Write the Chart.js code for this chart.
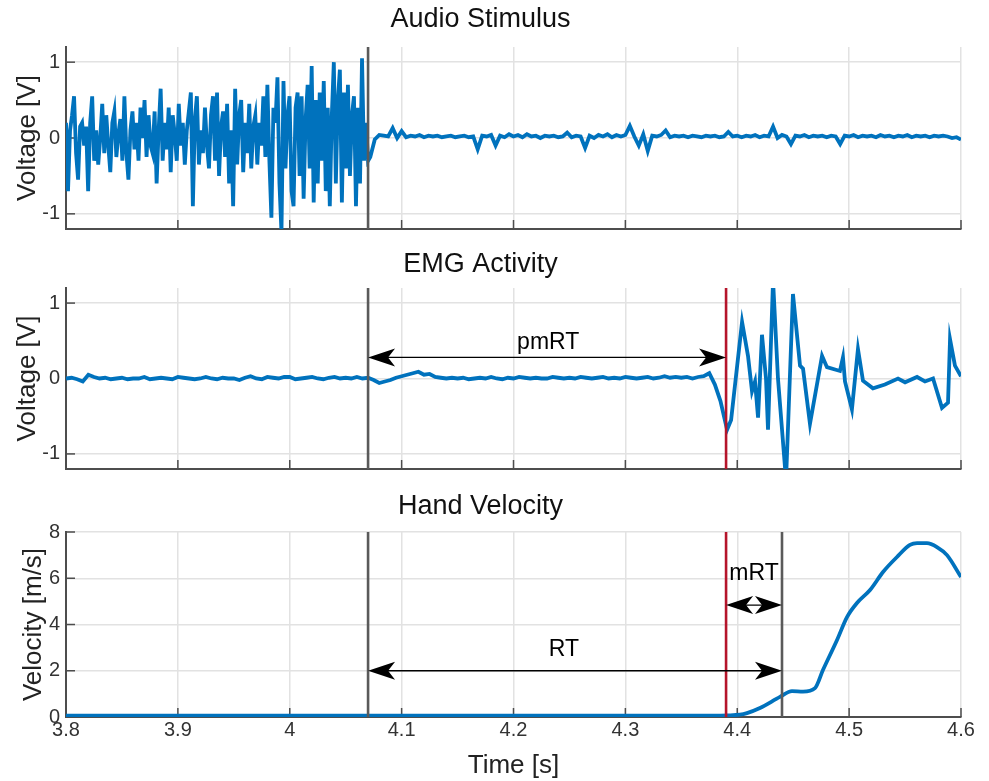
<!DOCTYPE html>
<html><head><meta charset="utf-8">
<script src="https://cdn.jsdelivr.net/npm/chart.js@4"></script>
<style>
html,body{margin:0;padding:0;background:#fff;}
#wrap{position:relative;width:989px;height:781px;overflow:hidden;background:#fff;}
canvas{position:absolute;left:0;}
</style></head><body>
<div id="wrap">
<canvas id="c1" width="989" height="245" style="top:0px"></canvas>
<canvas id="c2" width="989" height="245" style="top:240px"></canvas>
<canvas id="c3" width="989" height="301" style="top:480px"></canvas>
</div>
<script>
// ---------- data ----------
const xTicks = [3.8, 3.9, 4.0, 4.1, 4.2, 4.3, 4.4, 4.5, 4.6];
const xTickLabels = ['3.8', '3.9', '4', '4.1', '4.2', '4.3', '4.4', '4.5', '4.6'];
const voltTicks = [-1, 0, 1];
const velTicks = [0, 2, 4, 6, 8];

const stimulusOnset = 4.07;
const emgOnset = 4.39;
const moveOnset = 4.44;

// audio: noise part sampled from 3.8 s every 1.8 ms
const audioNoiseStart = 3.8, audioNoiseStep = 0.0018;
const audioNoise = [
  0.2, -0.7, 0.1, 0.3, 0.55, -0.2, -0.55, 0.15, 0.2, -0.1,
  0.15, -0.7, 0.2, 0.55, -0.3, 0.1, -0.35, 0.0, 0.45, -0.2,
  0.3, -0.1, -0.45, 0.2, 0.35, -0.25, 0.05, 0.25, -0.3, 0.55,
  -0.2, -0.55, 0.1, 0.35, -0.15, 0.2, -0.3, 0.4, 0.0, 0.5,
  -0.25, 0.3, -0.1, -0.2, 0.35, -0.6, 0.1, 0.65, -0.3, 0.2,
  -0.15, 0.4, -0.45, 0.3, 0.05, -0.3, 0.45, -0.1, 0.2, -0.35,
  0.1, 0.35, 0.6, -0.9, 0.25, 0.55, -0.35, 0.1, -0.2, 0.4,
  -0.1, -0.4, 0.3, 0.55, -0.3, 0.6, -0.5, 0.15, 0.35, -0.25,
  0.45, -0.6, 0.1, -0.9, 0.65, -0.35, 0.3, 0.5, -0.45, 0.2,
  -0.2, 0.45, -0.4, 0.15, 0.3, -0.35, 0.2, -0.1, 0.55, -0.25,
  0.7, -0.3, -1.05, 0.4, 0.2, 0.8, -0.6, -1.25, 0.75, -0.4,
  0.3, 0.55, -0.7, -0.9, 0.4, 0.6, -0.5, 0.55, -0.8, 0.25,
  0.7, -0.4, 0.95, -0.85, 0.5, -0.6, 0.6, -0.3, 0.75, -0.7,
  0.4, -0.9, 0.3, 1.0, -0.6, 0.5, 0.9, -0.85, 0.6, -0.4,
  0.7, -0.5, 0.3, 0.55, -0.9, 0.4, -0.6, 1.05, -0.3, 0.2,
  -0.3
];
// audio: quiet part sampled from 4.072 s every 4 ms
const audioQuietStart = 4.072, audioQuietStep = 0.004;
const audioQuiet = [
  -0.25, -0.02, 0.04, 0.03, 0.02, 0.13, 0.0, 0.09, 0.01, 0.03,
  0.02, 0.04, 0.01, 0.03, 0.02, 0.03, 0.01, 0.02, 0.03, 0.01,
  0.02, 0.03, 0.01, 0.02, -0.15, 0.03, 0.02, 0.04, -0.1, 0.03,
  0.01, 0.05, 0.02, 0.04, 0.01, 0.05, 0.02, 0.03, 0.0, 0.03,
  0.02, 0.03, 0.01, 0.02, 0.07, 0.01, 0.03, 0.02, -0.13, 0.03,
  0.0, 0.04, 0.02, 0.05, 0.01, 0.04, 0.02, 0.04, 0.16, 0.02,
  -0.1, 0.05, -0.17, 0.03, 0.02, 0.04, 0.1, 0.01, 0.03, 0.02,
  0.03, 0.01, 0.03, 0.02, 0.01, 0.03, 0.02, 0.03, 0.01, 0.02,
  0.08, 0.02, 0.03, 0.01, 0.03, 0.02, 0.04, 0.01, 0.03, 0.02,
  0.15, 0.0, 0.04, 0.02, -0.08, 0.03, 0.02, 0.04, 0.01, 0.03,
  0.02, 0.03, 0.01, 0.03, 0.02, -0.08, 0.03, 0.02, 0.04, 0.01,
  0.03, 0.02, 0.03, 0.01, 0.04, 0.02, 0.03, 0.01, 0.03, 0.02,
  0.04, 0.01, 0.03, 0.02, 0.03, 0.01, 0.03, 0.02, 0.03, 0.02,
  0.0, 0.01, -0.02
];

// EMG: baseline sampled from 3.8 s every 5 ms
const emgBaseStart = 3.8, emgBaseStep = 0.005;
const emgBase = [
  0.0, 0.01, -0.01, -0.04, 0.05, 0.02, 0.0, 0.01, -0.01, 0.0,
  0.01, -0.01, 0.0, 0.0, 0.02, -0.01, 0.0, 0.01, 0.0, -0.01,
  0.02, 0.01, 0.0, -0.01, 0.0, 0.02, 0.0, -0.01, 0.01, 0.0,
  0.0, -0.02, 0.01, 0.03, 0.0, -0.01, 0.02, 0.01, 0.0, 0.02,
  0.02, -0.01, 0.0, 0.01, 0.02, 0.0, -0.01, 0.01, 0.02, 0.0,
  0.01, 0.0, 0.02, 0.0, 0.01, -0.02, -0.06, -0.04, -0.02, 0.01,
  0.03, 0.05, 0.07, 0.09, 0.05, 0.06, 0.02, 0.01, 0.0, 0.01,
  0.0, 0.01, -0.01, 0.0, 0.01, 0.0, 0.02, 0.0, -0.01, 0.01,
  0.0, 0.02, 0.01, 0.0, 0.01, 0.0, 0.0, 0.02, 0.01, 0.0,
  0.01, 0.0, 0.02, 0.01, 0.0, 0.01, 0.02, 0.0, 0.01, 0.0,
  0.02, 0.01, 0.0, 0.01, 0.02, 0.0, 0.01, 0.03, 0.01, 0.02,
  0.01, 0.02, 0.0, 0.02, 0.03, 0.07, -0.08, -0.3
];
// EMG: burst after onset
const emgBurstTime = [
  4.3909, 4.3945, 4.4043, 4.4096, 4.4132, 4.4159, 4.4186, 4.4221, 4.4257, 4.4275,
  4.4320, 4.4364, 4.4436, 4.4498, 4.4561, 4.4588, 4.4650, 4.4758, 4.4802, 4.4918,
  4.4945, 4.4963, 4.5025, 4.5079, 4.5124, 4.5213, 4.5320, 4.5437, 4.5500, 4.5607,
  4.5678, 4.5750, 4.5830, 4.5884, 4.5902, 4.5946, 4.6000
];
const emgBurstVolt = [
  -0.68, -0.55, 0.75, 0.3, -0.17, -0.04, -0.52, 0.58, 0.0, -0.68,
  1.3, 0.0, -1.35, 1.12, 0.17, 0.13, -0.6, 0.3, 0.15, 0.1,
  0.28, -0.04, -0.41, 0.39, -0.03, -0.13, -0.08, 0.0, -0.05, 0.02,
  -0.04, 0.0, -0.39, -0.32, 0.52, 0.17, 0.03
];

// Hand velocity
const velTime = [
  3.8, 3.9, 4.0, 4.1, 4.2, 4.3, 4.38, 4.3909, 4.4025, 4.4087,
  4.4203, 4.4382, 4.4489, 4.4588, 4.4695, 4.4766, 4.4892, 4.4981, 4.507, 4.5187,
  4.5303, 4.5428, 4.5544, 4.5607, 4.5696, 4.5785, 4.5875, 4.6
];
const velValue = [
  0.06, 0.06, 0.06, 0.06, 0.06, 0.06, 0.06, 0.07, 0.1, 0.17,
  0.39, 0.87, 1.12, 1.1, 1.25, 2.03, 3.33, 4.32, 4.93, 5.49,
  6.27, 6.92, 7.44, 7.52, 7.52, 7.35, 7.0, 6.05
];

// ---------- helpers ----------
const FONT = "'Liberation Sans', Arial, Helvetica, sans-serif";
const BLUE = '#0072BD';
const AXIS = '#4d4d4d';
const GRID = '#e2e2e2';
const GRAY = '#5a5a5a';
const RED = '#b5152b';

function sampled(t0, dt, vals) { return vals.map((v, i) => ({ x: t0 + dt * i, y: v })); }
function paired(ts, vs) { return ts.map((t, i) => ({ x: t, y: vs[i] })); }

function arrowHead(ctx, tx, ty, dir) {
  const L = 27, W = 9, N = 7;
  ctx.beginPath();
  ctx.moveTo(tx, ty);
  ctx.lineTo(tx - dir * L, ty - W);
  ctx.lineTo(tx - dir * (L - N), ty);
  ctx.lineTo(tx - dir * L, ty + W);
  ctx.closePath();
  ctx.fill();
}

function annotPlugin(cfg) {
  return {
    id: 'annot',
    beforeDatasetsDraw(chart) {
      const { ctx, chartArea: a, scales: { x, y } } = chart;
      ctx.save();
      ctx.strokeStyle = AXIS; ctx.lineWidth = 1.5;
      xTicks.forEach(v => {
        const px = x.getPixelForValue(v);
        ctx.beginPath(); ctx.moveTo(px, a.bottom); ctx.lineTo(px, a.bottom - 9); ctx.stroke();
      });
      cfg.yTicks.forEach(v => {
        const py = y.getPixelForValue(v);
        ctx.beginPath(); ctx.moveTo(a.left, py); ctx.lineTo(a.left + 9, py); ctx.stroke();
      });
      ctx.restore();
    },
    afterDatasetsDraw(chart) {
      const { ctx, chartArea: a, scales: { x, y } } = chart;
      ctx.save();
      (cfg.vlines || []).forEach(l => {
        const px = x.getPixelForValue(l.x);
        ctx.strokeStyle = l.color; ctx.lineWidth = 2.6;
        ctx.beginPath(); ctx.moveTo(px, a.top); ctx.lineTo(px, a.bottom); ctx.stroke();
      });
      ctx.fillStyle = '#000'; ctx.strokeStyle = '#000';
      (cfg.arrows || []).forEach(ar => {
        const x1 = x.getPixelForValue(ar.x1), x2 = x.getPixelForValue(ar.x2), py = y.getPixelForValue(ar.y);
        ctx.lineWidth = 1.3;
        ctx.beginPath(); ctx.moveTo(x1 + 10, py); ctx.lineTo(x2 - 10, py); ctx.stroke();
        arrowHead(ctx, x1, py, -1);
        arrowHead(ctx, x2, py, 1);
      });
      ctx.font = '23px ' + FONT;
      ctx.textAlign = 'center'; ctx.textBaseline = 'middle';
      (cfg.labels || []).forEach(lb => {
        ctx.fillText(lb.text, x.getPixelForValue(lb.x), y.getPixelForValue(lb.y));
      });
      ctx.restore();
    }
  };
}

function makeChart(id, o) {
  const showX = !!o.showX;
  return new Chart(document.getElementById(id), {
    type: 'line',
    data: { datasets: o.datasets.map(d => ({
      data: d, borderColor: BLUE, borderWidth: 3.8, pointRadius: 0, fill: false,
      tension: 0, cubicInterpolationMode: o.smooth ? 'monotone' : 'default'
    })) },
    options: {
      responsive: false, animation: false, events: [],
      layout: { padding: { left: 0, right: 28, top: 0, bottom: o.padBottom } },
      plugins: {
        legend: { display: false }, tooltip: { enabled: false },
        title: {
          display: true, text: o.title, color: '#111',
          font: { family: FONT, size: 27, weight: 'normal', lineHeight: 1.2 },
          padding: { top: o.titleTop, bottom: o.titleBottom }
        }
      },
      scales: {
        x: {
          type: 'linear', min: 3.8, max: 4.6,
          afterBuildTicks: s => { s.ticks = xTicks.map(v => ({ value: v })); },
          afterFit: s => { s.height = showX ? 64 : 0; },
          ticks: {
            display: showX, color: '#333', padding: 3, maxRotation: 0, autoSkip: false,
            font: { family: FONT, size: 20, lineHeight: 1.0 },
            callback: (v, i) => xTickLabels[i]
          },
          grid: { color: GRID, lineWidth: 1.5, drawTicks: false },
          border: { display: true, color: AXIS, width: 2 },
          title: {
            display: showX, text: 'Time [s]', color: '#222',
            font: { family: FONT, size: 26, lineHeight: 1.2 }, padding: { top: 0, bottom: 0 }
          }
        },
        y: {
          min: o.yMin, max: o.yMax,
          afterBuildTicks: s => { s.ticks = o.yTicks.map(v => ({ value: v })); },
          afterFit: s => { s.width = 66; },
          ticks: { color: '#333', padding: 6, font: { family: FONT, size: 20, lineHeight: 1.0 } },
          grid: { color: GRID, lineWidth: 1.5, drawTicks: false },
          border: { display: true, color: AXIS, width: 2 },
          title: {
            display: true, text: o.yTitle, color: '#222',
            font: { family: FONT, size: 26, lineHeight: 1.2 }, padding: { top: o.yTitlePad, bottom: 0 }
          }
        }
      }
    },
    plugins: [annotPlugin(o.annot)]
  });
}

makeChart('c1', {
  title: 'Audio Stimulus', titleTop: 3.8, titleBottom: 10.8, padBottom: 13,
  yMin: -1.2, yMax: 1.2, yTicks: voltTicks, yTitle: 'Voltage [V]', yTitlePad: 12,
  datasets: [sampled(audioNoiseStart, audioNoiseStep, audioNoise).concat(sampled(audioQuietStart, audioQuietStep, audioQuiet))],
  annot: { yTicks: voltTicks, vlines: [{ x: stimulusOnset, color: GRAY }] }
});

makeChart('c2', {
  title: 'EMG Activity', titleTop: 8.8, titleBottom: 6.8, padBottom: 12,
  yMin: -1.2, yMax: 1.2, yTicks: voltTicks, yTitle: 'Voltage [V]', yTitlePad: 12,
  datasets: [sampled(emgBaseStart, emgBaseStep, emgBase).concat(paired(emgBurstTime, emgBurstVolt))],
  annot: {
    yTicks: voltTicks,
    vlines: [{ x: stimulusOnset, color: GRAY }, { x: emgOnset, color: RED }],
    arrows: [{ x1: stimulusOnset, x2: emgOnset, y: 0.28 }],
    labels: [{ text: 'pmRT', x: 4.231, y: 0.48 }]
  }
});

makeChart('c3', {
  title: 'Hand Velocity', titleTop: 10.8, titleBottom: 8.8, padBottom: 0, showX: true, smooth: true,
  yMin: 0, yMax: 8, yTicks: velTicks, yTitle: 'Velocity [m/s]', yTitlePad: 18,
  datasets: [paired(velTime, velValue)],
  annot: {
    yTicks: velTicks,
    vlines: [{ x: stimulusOnset, color: GRAY }, { x: emgOnset, color: RED }, { x: moveOnset, color: GRAY }],
    arrows: [{ x1: stimulusOnset, x2: moveOnset, y: 2.0 }, { x1: emgOnset, x2: moveOnset, y: 4.84 }],
    labels: [{ text: 'RT', x: 4.245, y: 2.9 }, { text: 'mRT', x: 4.415, y: 6.18 }]
  }
});
</script>
</body></html>
